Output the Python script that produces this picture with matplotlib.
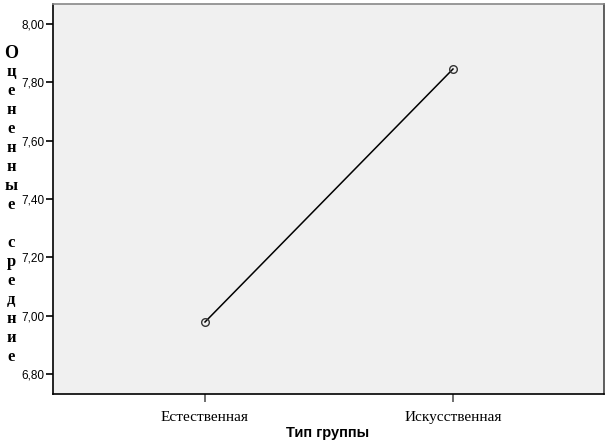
import matplotlib
matplotlib.use("Agg")
import matplotlib.pyplot as plt

categories = ["Естественная", "Искусственная"]
means = [6.978, 7.846]
yticks = [6.80, 7.00, 7.20, 7.40, 7.60, 7.80, 8.00]
xlabel = "Тип группы"
ylabel = "Оцененные средние"

fig = plt.figure(figsize=(6.13, 4.42), dpi=100)
W, H = 613, 442
ax = fig.add_axes([53 / W, 1 - 394 / H, (604 - 53) / W, (394 - 4) / H])
ax.set_facecolor("#f0f0f0")

x = list(range(len(categories)))
ax.plot(x, means, color="black", lw=1.1, marker="o", markersize=5.5,
        markerfacecolor="none", markeredgecolor="#333333", markeredgewidth=1.0)

ax.set_xlim(-0.613, 1.609)
ax.set_ylim(6.731, 8.069)
ax.set_yticks(yticks)
ax.set_yticklabels([f"{v:.2f}".replace(".", ",") for v in yticks],
                   family="Liberation Sans", fontsize=8.5)
ax.set_xticks(x)
ax.set_xticklabels(categories, family="Liberation Serif", fontsize=11)
ax.tick_params(axis="y", length=5, width=1.2, color="black", pad=1)
ax.tick_params(axis="x", length=6, width=1.2, color="#555555", pad=6)

for s in ["left", "bottom"]:
    ax.spines[s].set_color("black")
    ax.spines[s].set_linewidth(1.2)
ax.spines["top"].set_color("#888888")
ax.spines["right"].set_color("#444444")
ax.spines["top"].set_linewidth(1.2)
ax.spines["right"].set_linewidth(1.2)

fig.text(328 / W, 1 - 433 / H, xlabel, family="Liberation Sans",
         fontweight="bold", fontsize=10.5, ha="center", va="center")

# stacked vertical y label
y0 = 53
step = 19
for i, ch in enumerate(ylabel):
    fig.text(11 / W, 1 - (y0 + i * step) / H, ch, family="Liberation Serif",
             fontweight="bold", fontsize=13 if i == 0 else 12,
             ha="center", va="center")

fig.savefig("out.png", dpi=100)
